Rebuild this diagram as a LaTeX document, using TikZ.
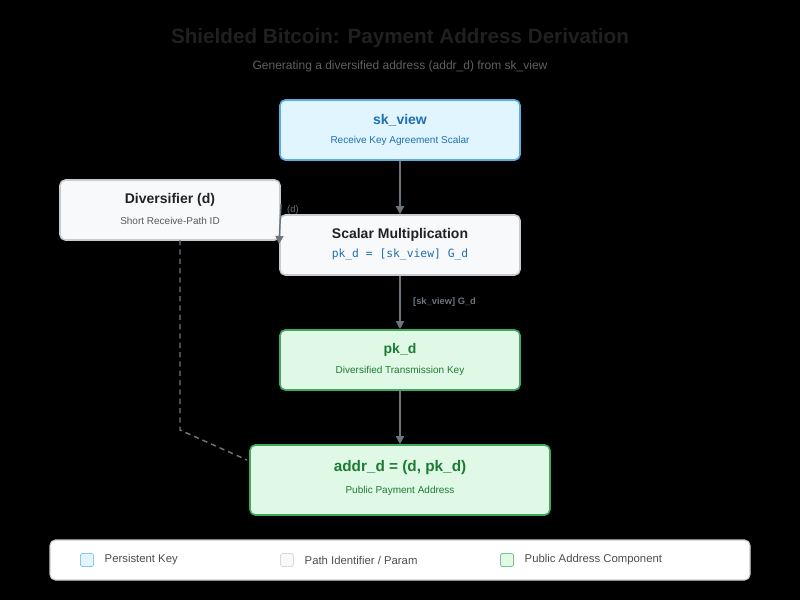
\documentclass[tikz,border=0pt]{standalone}
\usepackage{fontspec}
\setmainfont{Liberation Sans}
\setmonofont{DejaVu Sans Mono}
\usetikzlibrary{arrows.meta}
\definecolor{bluef}{HTML}{E1F5FE}\definecolor{blued}{HTML}{5DADE2}\definecolor{bluet}{HTML}{1F6FB2}
\definecolor{grayf}{HTML}{F8F9FA}\definecolor{grayd}{HTML}{C8CCD0}\definecolor{grayt}{HTML}{222222}
\definecolor{greenf}{HTML}{E0F8E6}\definecolor{greend}{HTML}{41A85F}\definecolor{greent}{HTML}{1E7B34}
\definecolor{conn}{HTML}{6C757D}
\tikzset{
 box/.style={rounded corners=4pt,line width=1.2pt,align=center,inner sep=0pt},
 bbox/.style={box,fill=bluef,draw=blued,text=bluet},
 gbox/.style={box,fill=grayf,draw=grayd,text=grayt},
 ebox/.style={box,fill=greenf,draw=greend,text=greent},
 conn/.style={draw=conn,line width=1.1pt,-{Triangle[length=6pt,width=6pt]}},
 sub/.style={font=\fontsize{7.5}{9}\selectfont},
 ttl/.style={font=\bfseries\fontsize{10.5}{12}\selectfont},
 lbl/.style={text=conn,font=\fontsize{7}{8}\selectfont},
}
\begin{document}
\begin{tikzpicture}[x=0.75pt,y=-0.75pt]
\fill[black] (0,0) rectangle (800,600);
\useasboundingbox (0,0) rectangle (800,600);
\node[text=black!80!white,font=\bfseries\fontsize{15.5}{18}\selectfont,text=gray!25!black] (title) at (400,38) {Shielded Bitcoin: Payment Address Derivation};
\node[text=gray!75!black,font=\fontsize{9}{11}\selectfont] (subt) at (400,66) {Generating a diversified address (addr\_d) from sk\_view};
\node[bbox,minimum width=180pt,minimum height=45pt] (sk) at (400,130) {};
\node[ttl,text=bluet] (skt) at (400,120) {sk\_view};
\node[sub,text=bluet] (sks) at (400,141) {Receive Key Agreement Scalar};
\node[gbox,minimum width=165pt,minimum height=45pt] (dv) at (170,210) {};
\node[ttl,text=grayt] (dvt) at (170,200) {Diversifier (d)};
\node[sub,text=gray!70!black] (dvs) at (170,221) {Short Receive-Path ID};
\node[gbox,minimum width=180pt,minimum height=45pt] (sm) at (400,245) {};
\node[ttl,text=grayt] (smt) at (400,235) {Scalar Multiplication};
\node[text=bluet,font=\ttfamily\fontsize{8.5}{10}\selectfont] (sms) at (400,255) {pk\_d = [sk\_view] G\_d};
\node[ebox,minimum width=180pt,minimum height=45pt] (pk) at (400,360) {};
\node[ttl,text=greent] (pkt) at (400,350) {pk\_d};
\node[sub,text=greent] (pks) at (400,371) {Diversified Transmission Key};
\node[ebox,minimum width=225pt,minimum height=52.5pt] (ad) at (400,480) {};
\node[font=\bfseries\fontsize{11.5}{13}\selectfont,text=greent] (adt) at (400,468) {addr\_d = (d, pk\_d)};
\node[sub,text=greent] (ads) at (400,491) {Public Payment Address};
\draw[conn] (sk.south) -- (sm.north);
\draw[conn] (sm.south) -- node[lbl,right=6pt,font=\bfseries\fontsize{7}{8}\selectfont] (l1) {[sk\_view] G\_d} (pk.north);
\draw[conn] (pk.south) -- (ad.north);
\coordinate (d1) at (281,204);
\coordinate (d2) at (279,244);
\draw[conn] (d1) -- node[lbl,right=1pt,pos=0.15] (l2) {(d)} (d2);
\coordinate (c1) at (180,430);
\draw[conn,-,dashed,dash pattern=on 4pt off 3pt] (180,240) -- (c1) -- (247,460);
\node[box,fill=white,draw=grayd,line width=0.8pt,minimum width=525pt,minimum height=30pt] (lg) at (400,560) {};
\node[draw=blued,fill=bluef,rounded corners=2pt,minimum size=10pt,inner sep=0pt] (s1) at (87,560) {};
\node[anchor=west,sub,font=\fontsize{8.5}{10}\selectfont,text=grayt!80] (t1) at (100,560) {Persistent Key};
\node[draw=grayd,fill=grayf,rounded corners=2pt,minimum size=10pt,inner sep=0pt] (s2) at (287,560) {};
\node[anchor=west,font=\fontsize{8.5}{10}\selectfont,text=grayt!80] (t2) at (300,560) {Path Identifier / Param};
\node[draw=greend,fill=greenf,rounded corners=2pt,minimum size=10pt,inner sep=0pt] (s3) at (507,560) {};
\node[anchor=west,font=\fontsize{8.5}{10}\selectfont,text=grayt!80] (t3) at (520,560) {Public Address Component};
\end{tikzpicture}
\end{document}
